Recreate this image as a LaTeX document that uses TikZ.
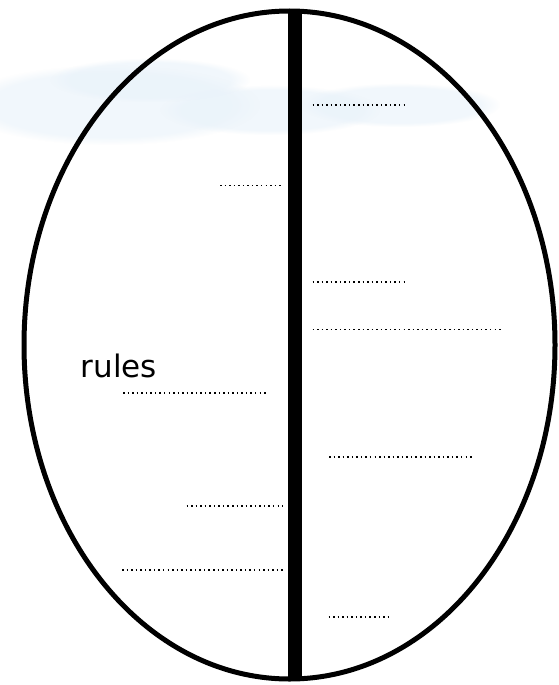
\documentclass[tikz,border=0pt]{standalone}
\usepackage{fontspec}
\setmainfont{DejaVu Sans}
\usetikzlibrary{fadings,shapes.geometric}
\definecolor{skywash}{RGB}{232,242,250}
\tikzset{
  dotline/.style={line width=1.5pt, dash pattern=on 1.5pt off 3.05pt, black},
  outline/.style={line width=5pt, black},
  divider/.style={line width=13.5pt, black},
  washblob/.style={fill=skywash, draw=none, fill opacity=0.6, path fading=circle with fuzzy edge 20 percent}
}
\begin{document}
\begin{tikzpicture}[x=1pt,y=-1pt]
  \useasboundingbox (0,0) rectangle (559,685);
  \fill[white] (0,0) rectangle (559,685);
  % faint background wash
  \fill[washblob] (110,105) ellipse (150 and 40);
  \fill[washblob] (270,110) ellipse (110 and 25);
  \fill[washblob] (400,105) ellipse (100 and 22);
  \fill[washblob] (150,80) ellipse (100 and 22);
  % ellipse
  \node[draw, outline, ellipse, minimum width=531pt, minimum height=668pt, inner sep=0pt, outer sep=0pt] (egg) at (289.5,345) {};
  % divider
  \coordinate (bartop) at (295.2,9);
  \coordinate (barbot) at (295.2,680);
  \draw[divider] (bartop) -- (barbot);
  % label
  \node[anchor=base west, inner sep=0pt, font=\fontsize{31}{36}\selectfont] (rules) at (80.5,377) {rules};
  % dotted blanks
  \coordinate (r1a) at (312.5,105); \coordinate (r1b) at (408,105);
  \coordinate (l1a) at (220,185.5); \coordinate (l1b) at (282.5,185.5);
  \coordinate (r2a) at (312.5,282); \coordinate (r2b) at (408,282);
  \coordinate (r3a) at (312.5,329.5); \coordinate (r3b) at (503,329.5);
  \coordinate (l2a) at (123,393); \coordinate (l2b) at (266,393);
  \coordinate (r4a) at (329,457); \coordinate (r4b) at (472,457);
  \coordinate (l3a) at (186.5,506); \coordinate (l3b) at (282.5,506);
  \coordinate (l4a) at (122,570); \coordinate (l4b) at (282.5,570);
  \coordinate (r5a) at (328.5,617); \coordinate (r5b) at (390,617);
  \foreach \p in {r1,l1,r2,r3,l2,r4,l3,l4,r5}{
    \draw[dotline] (\p a) -- (\p b);
  }
\end{tikzpicture}
\end{document}
